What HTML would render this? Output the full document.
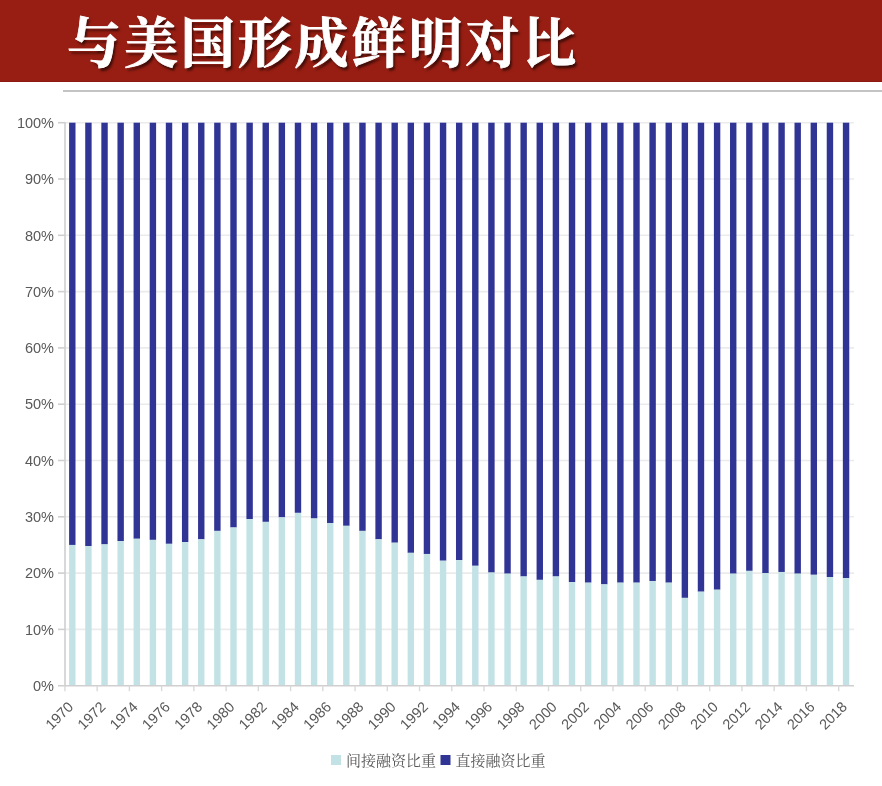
<!DOCTYPE html>
<html lang="zh-CN">
<head>
<meta charset="utf-8">
<title>与美国形成鲜明对比</title>
<style>
html,body{margin:0;padding:0;}
body{width:882px;height:786px;background:#fff;position:relative;overflow:hidden;font-family:"Liberation Sans","Noto Sans CJK SC",sans-serif;}
.hdr{position:absolute;left:0;top:0;width:882px;height:81px;background:#981e13;border-bottom:1px solid #8c1a10;}
.hdr h1{position:absolute;left:67px;top:4px;margin:0;font-family:"Liberation Serif","Noto Serif CJK SC",serif;font-weight:700;font-size:54px;line-height:82px;color:#fff;letter-spacing:2.9px;-webkit-text-stroke:0.8px #fff;white-space:nowrap;text-shadow:2px 2.5px 2.5px rgba(0,0,0,0.6);}
.rule{position:absolute;left:63px;top:90px;width:819px;height:2px;background:#c4c4c4;}
svg{position:absolute;left:0;top:0;}
svg text{font-family:"Liberation Sans","Noto Sans CJK SC",sans-serif;fill:#595959;}
.leg{font-family:"Liberation Serif","Noto Serif CJK SC",serif;}
</style>
</head>
<body>
<div class="hdr"><h1>与美国形成鲜明对比</h1></div>
<div class="rule"></div>
<svg width="882" height="786" viewBox="0 0 882 786">

<g stroke="#ebebeb" stroke-width="1.6">
<line x1="65.0" y1="629.40" x2="854.0" y2="629.40"/>
<line x1="65.0" y1="573.10" x2="854.0" y2="573.10"/>
<line x1="65.0" y1="516.80" x2="854.0" y2="516.80"/>
<line x1="65.0" y1="460.50" x2="854.0" y2="460.50"/>
<line x1="65.0" y1="404.20" x2="854.0" y2="404.20"/>
<line x1="65.0" y1="347.90" x2="854.0" y2="347.90"/>
<line x1="65.0" y1="291.60" x2="854.0" y2="291.60"/>
<line x1="65.0" y1="235.30" x2="854.0" y2="235.30"/>
<line x1="65.0" y1="179.00" x2="854.0" y2="179.00"/>
<line x1="65.0" y1="122.70" x2="854.0" y2="122.70"/>
</g>
<g>
<rect x="69.10" y="122.70" width="6.40" height="422.25" fill="#303494"/>
<rect x="69.10" y="544.95" width="6.40" height="140.75" fill="#c2e2e6"/>
<rect x="85.22" y="122.70" width="6.40" height="423.38" fill="#303494"/>
<rect x="85.22" y="546.08" width="6.40" height="139.62" fill="#c2e2e6"/>
<rect x="101.34" y="122.70" width="6.40" height="421.69" fill="#303494"/>
<rect x="101.34" y="544.39" width="6.40" height="141.31" fill="#c2e2e6"/>
<rect x="117.46" y="122.70" width="6.40" height="418.31" fill="#303494"/>
<rect x="117.46" y="541.01" width="6.40" height="144.69" fill="#c2e2e6"/>
<rect x="133.58" y="122.70" width="6.40" height="416.06" fill="#303494"/>
<rect x="133.58" y="538.76" width="6.40" height="146.94" fill="#c2e2e6"/>
<rect x="149.70" y="122.70" width="6.40" height="417.18" fill="#303494"/>
<rect x="149.70" y="539.88" width="6.40" height="145.82" fill="#c2e2e6"/>
<rect x="165.82" y="122.70" width="6.40" height="421.12" fill="#303494"/>
<rect x="165.82" y="543.82" width="6.40" height="141.88" fill="#c2e2e6"/>
<rect x="181.94" y="122.70" width="6.40" height="419.44" fill="#303494"/>
<rect x="181.94" y="542.13" width="6.40" height="143.57" fill="#c2e2e6"/>
<rect x="198.06" y="122.70" width="6.40" height="416.62" fill="#303494"/>
<rect x="198.06" y="539.32" width="6.40" height="146.38" fill="#c2e2e6"/>
<rect x="214.18" y="122.70" width="6.40" height="408.18" fill="#303494"/>
<rect x="214.18" y="530.88" width="6.40" height="154.83" fill="#c2e2e6"/>
<rect x="230.30" y="122.70" width="6.40" height="404.80" fill="#303494"/>
<rect x="230.30" y="527.50" width="6.40" height="158.20" fill="#c2e2e6"/>
<rect x="246.42" y="122.70" width="6.40" height="396.35" fill="#303494"/>
<rect x="246.42" y="519.05" width="6.40" height="166.65" fill="#c2e2e6"/>
<rect x="262.54" y="122.70" width="6.40" height="399.17" fill="#303494"/>
<rect x="262.54" y="521.87" width="6.40" height="163.83" fill="#c2e2e6"/>
<rect x="278.66" y="122.70" width="6.40" height="394.66" fill="#303494"/>
<rect x="278.66" y="517.36" width="6.40" height="168.34" fill="#c2e2e6"/>
<rect x="294.78" y="122.70" width="6.40" height="390.16" fill="#303494"/>
<rect x="294.78" y="512.86" width="6.40" height="172.84" fill="#c2e2e6"/>
<rect x="310.90" y="122.70" width="6.40" height="395.79" fill="#303494"/>
<rect x="310.90" y="518.49" width="6.40" height="167.21" fill="#c2e2e6"/>
<rect x="327.02" y="122.70" width="6.40" height="400.29" fill="#303494"/>
<rect x="327.02" y="522.99" width="6.40" height="162.71" fill="#c2e2e6"/>
<rect x="343.14" y="122.70" width="6.40" height="403.11" fill="#303494"/>
<rect x="343.14" y="525.81" width="6.40" height="159.89" fill="#c2e2e6"/>
<rect x="359.26" y="122.70" width="6.40" height="408.18" fill="#303494"/>
<rect x="359.26" y="530.88" width="6.40" height="154.83" fill="#c2e2e6"/>
<rect x="375.38" y="122.70" width="6.40" height="416.62" fill="#303494"/>
<rect x="375.38" y="539.32" width="6.40" height="146.38" fill="#c2e2e6"/>
<rect x="391.50" y="122.70" width="6.40" height="420.00" fill="#303494"/>
<rect x="391.50" y="542.70" width="6.40" height="143.00" fill="#c2e2e6"/>
<rect x="407.62" y="122.70" width="6.40" height="430.13" fill="#303494"/>
<rect x="407.62" y="552.83" width="6.40" height="132.87" fill="#c2e2e6"/>
<rect x="423.74" y="122.70" width="6.40" height="431.26" fill="#303494"/>
<rect x="423.74" y="553.96" width="6.40" height="131.74" fill="#c2e2e6"/>
<rect x="439.86" y="122.70" width="6.40" height="438.01" fill="#303494"/>
<rect x="439.86" y="560.71" width="6.40" height="124.99" fill="#c2e2e6"/>
<rect x="455.98" y="122.70" width="6.40" height="437.45" fill="#303494"/>
<rect x="455.98" y="560.15" width="6.40" height="125.55" fill="#c2e2e6"/>
<rect x="472.10" y="122.70" width="6.40" height="443.08" fill="#303494"/>
<rect x="472.10" y="565.78" width="6.40" height="119.92" fill="#c2e2e6"/>
<rect x="488.22" y="122.70" width="6.40" height="449.84" fill="#303494"/>
<rect x="488.22" y="572.54" width="6.40" height="113.16" fill="#c2e2e6"/>
<rect x="504.34" y="122.70" width="6.40" height="450.96" fill="#303494"/>
<rect x="504.34" y="573.66" width="6.40" height="112.04" fill="#c2e2e6"/>
<rect x="520.46" y="122.70" width="6.40" height="453.78" fill="#303494"/>
<rect x="520.46" y="576.48" width="6.40" height="109.22" fill="#c2e2e6"/>
<rect x="536.58" y="122.70" width="6.40" height="457.16" fill="#303494"/>
<rect x="536.58" y="579.86" width="6.40" height="105.84" fill="#c2e2e6"/>
<rect x="552.70" y="122.70" width="6.40" height="453.78" fill="#303494"/>
<rect x="552.70" y="576.48" width="6.40" height="109.22" fill="#c2e2e6"/>
<rect x="568.82" y="122.70" width="6.40" height="459.41" fill="#303494"/>
<rect x="568.82" y="582.11" width="6.40" height="103.59" fill="#c2e2e6"/>
<rect x="584.94" y="122.70" width="6.40" height="459.97" fill="#303494"/>
<rect x="584.94" y="582.67" width="6.40" height="103.03" fill="#c2e2e6"/>
<rect x="601.06" y="122.70" width="6.40" height="461.66" fill="#303494"/>
<rect x="601.06" y="584.36" width="6.40" height="101.34" fill="#c2e2e6"/>
<rect x="617.18" y="122.70" width="6.40" height="459.97" fill="#303494"/>
<rect x="617.18" y="582.67" width="6.40" height="103.03" fill="#c2e2e6"/>
<rect x="633.30" y="122.70" width="6.40" height="459.97" fill="#303494"/>
<rect x="633.30" y="582.67" width="6.40" height="103.03" fill="#c2e2e6"/>
<rect x="649.42" y="122.70" width="6.40" height="458.28" fill="#303494"/>
<rect x="649.42" y="580.98" width="6.40" height="104.72" fill="#c2e2e6"/>
<rect x="665.54" y="122.70" width="6.40" height="459.97" fill="#303494"/>
<rect x="665.54" y="582.67" width="6.40" height="103.03" fill="#c2e2e6"/>
<rect x="681.66" y="122.70" width="6.40" height="475.17" fill="#303494"/>
<rect x="681.66" y="597.87" width="6.40" height="87.83" fill="#c2e2e6"/>
<rect x="697.78" y="122.70" width="6.40" height="468.98" fill="#303494"/>
<rect x="697.78" y="591.68" width="6.40" height="94.02" fill="#c2e2e6"/>
<rect x="713.90" y="122.70" width="6.40" height="467.01" fill="#303494"/>
<rect x="713.90" y="589.71" width="6.40" height="95.99" fill="#c2e2e6"/>
<rect x="730.02" y="122.70" width="6.40" height="450.96" fill="#303494"/>
<rect x="730.02" y="573.66" width="6.40" height="112.04" fill="#c2e2e6"/>
<rect x="746.14" y="122.70" width="6.40" height="448.15" fill="#303494"/>
<rect x="746.14" y="570.85" width="6.40" height="114.85" fill="#c2e2e6"/>
<rect x="762.26" y="122.70" width="6.40" height="450.40" fill="#303494"/>
<rect x="762.26" y="573.10" width="6.40" height="112.60" fill="#c2e2e6"/>
<rect x="778.38" y="122.70" width="6.40" height="449.27" fill="#303494"/>
<rect x="778.38" y="571.97" width="6.40" height="113.73" fill="#c2e2e6"/>
<rect x="794.50" y="122.70" width="6.40" height="450.96" fill="#303494"/>
<rect x="794.50" y="573.66" width="6.40" height="112.04" fill="#c2e2e6"/>
<rect x="810.62" y="122.70" width="6.40" height="452.09" fill="#303494"/>
<rect x="810.62" y="574.79" width="6.40" height="110.91" fill="#c2e2e6"/>
<rect x="826.74" y="122.70" width="6.40" height="454.34" fill="#303494"/>
<rect x="826.74" y="577.04" width="6.40" height="108.66" fill="#c2e2e6"/>
<rect x="842.86" y="122.70" width="6.40" height="455.47" fill="#303494"/>
<rect x="842.86" y="578.17" width="6.40" height="107.53" fill="#c2e2e6"/>
</g>
<g stroke="#cfcfcf" stroke-width="1.6" fill="none">
<line x1="65.0" y1="121.90" x2="65.0" y2="686.50"/>
<line x1="58.0" y1="685.70" x2="854.0" y2="685.70"/>
<line x1="58.0" y1="629.40" x2="65.0" y2="629.40"/>
<line x1="58.0" y1="573.10" x2="65.0" y2="573.10"/>
<line x1="58.0" y1="516.80" x2="65.0" y2="516.80"/>
<line x1="58.0" y1="460.50" x2="65.0" y2="460.50"/>
<line x1="58.0" y1="404.20" x2="65.0" y2="404.20"/>
<line x1="58.0" y1="347.90" x2="65.0" y2="347.90"/>
<line x1="58.0" y1="291.60" x2="65.0" y2="291.60"/>
<line x1="58.0" y1="235.30" x2="65.0" y2="235.30"/>
<line x1="58.0" y1="179.00" x2="65.0" y2="179.00"/>
<line x1="58.0" y1="122.70" x2="65.0" y2="122.70"/>
<line stroke="#d9d9d9" stroke-width="1.4" x1="64.90" y1="685.70" x2="64.90" y2="691.20"/>
<line stroke="#d9d9d9" stroke-width="1.4" x1="97.14" y1="685.70" x2="97.14" y2="691.20"/>
<line stroke="#d9d9d9" stroke-width="1.4" x1="129.38" y1="685.70" x2="129.38" y2="691.20"/>
<line stroke="#d9d9d9" stroke-width="1.4" x1="161.62" y1="685.70" x2="161.62" y2="691.20"/>
<line stroke="#d9d9d9" stroke-width="1.4" x1="193.86" y1="685.70" x2="193.86" y2="691.20"/>
<line stroke="#d9d9d9" stroke-width="1.4" x1="226.10" y1="685.70" x2="226.10" y2="691.20"/>
<line stroke="#d9d9d9" stroke-width="1.4" x1="258.34" y1="685.70" x2="258.34" y2="691.20"/>
<line stroke="#d9d9d9" stroke-width="1.4" x1="290.58" y1="685.70" x2="290.58" y2="691.20"/>
<line stroke="#d9d9d9" stroke-width="1.4" x1="322.82" y1="685.70" x2="322.82" y2="691.20"/>
<line stroke="#d9d9d9" stroke-width="1.4" x1="355.06" y1="685.70" x2="355.06" y2="691.20"/>
<line stroke="#d9d9d9" stroke-width="1.4" x1="387.30" y1="685.70" x2="387.30" y2="691.20"/>
<line stroke="#d9d9d9" stroke-width="1.4" x1="419.54" y1="685.70" x2="419.54" y2="691.20"/>
<line stroke="#d9d9d9" stroke-width="1.4" x1="451.78" y1="685.70" x2="451.78" y2="691.20"/>
<line stroke="#d9d9d9" stroke-width="1.4" x1="484.02" y1="685.70" x2="484.02" y2="691.20"/>
<line stroke="#d9d9d9" stroke-width="1.4" x1="516.26" y1="685.70" x2="516.26" y2="691.20"/>
<line stroke="#d9d9d9" stroke-width="1.4" x1="548.50" y1="685.70" x2="548.50" y2="691.20"/>
<line stroke="#d9d9d9" stroke-width="1.4" x1="580.74" y1="685.70" x2="580.74" y2="691.20"/>
<line stroke="#d9d9d9" stroke-width="1.4" x1="612.98" y1="685.70" x2="612.98" y2="691.20"/>
<line stroke="#d9d9d9" stroke-width="1.4" x1="645.22" y1="685.70" x2="645.22" y2="691.20"/>
<line stroke="#d9d9d9" stroke-width="1.4" x1="677.46" y1="685.70" x2="677.46" y2="691.20"/>
<line stroke="#d9d9d9" stroke-width="1.4" x1="709.70" y1="685.70" x2="709.70" y2="691.20"/>
<line stroke="#d9d9d9" stroke-width="1.4" x1="741.94" y1="685.70" x2="741.94" y2="691.20"/>
<line stroke="#d9d9d9" stroke-width="1.4" x1="774.18" y1="685.70" x2="774.18" y2="691.20"/>
<line stroke="#d9d9d9" stroke-width="1.4" x1="806.42" y1="685.70" x2="806.42" y2="691.20"/>
<line stroke="#d9d9d9" stroke-width="1.4" x1="838.66" y1="685.70" x2="838.66" y2="691.20"/>
</g>
<g font-size="14.5" text-anchor="end">
<text x="54.0" y="690.90">0%</text>
<text x="54.0" y="634.60">10%</text>
<text x="54.0" y="578.30">20%</text>
<text x="54.0" y="522.00">30%</text>
<text x="54.0" y="465.70">40%</text>
<text x="54.0" y="409.40">50%</text>
<text x="54.0" y="353.10">60%</text>
<text x="54.0" y="296.80">70%</text>
<text x="54.0" y="240.50">80%</text>
<text x="54.0" y="184.20">90%</text>
<text x="54.0" y="127.90">100%</text>
</g>
<g font-size="14.5" text-anchor="end">
<text transform="translate(74.20,707.70) rotate(-45)" x="0" y="0">1970</text>
<text transform="translate(106.44,707.70) rotate(-45)" x="0" y="0">1972</text>
<text transform="translate(138.68,707.70) rotate(-45)" x="0" y="0">1974</text>
<text transform="translate(170.92,707.70) rotate(-45)" x="0" y="0">1976</text>
<text transform="translate(203.16,707.70) rotate(-45)" x="0" y="0">1978</text>
<text transform="translate(235.40,707.70) rotate(-45)" x="0" y="0">1980</text>
<text transform="translate(267.64,707.70) rotate(-45)" x="0" y="0">1982</text>
<text transform="translate(299.88,707.70) rotate(-45)" x="0" y="0">1984</text>
<text transform="translate(332.12,707.70) rotate(-45)" x="0" y="0">1986</text>
<text transform="translate(364.36,707.70) rotate(-45)" x="0" y="0">1988</text>
<text transform="translate(396.60,707.70) rotate(-45)" x="0" y="0">1990</text>
<text transform="translate(428.84,707.70) rotate(-45)" x="0" y="0">1992</text>
<text transform="translate(461.08,707.70) rotate(-45)" x="0" y="0">1994</text>
<text transform="translate(493.32,707.70) rotate(-45)" x="0" y="0">1996</text>
<text transform="translate(525.56,707.70) rotate(-45)" x="0" y="0">1998</text>
<text transform="translate(557.80,707.70) rotate(-45)" x="0" y="0">2000</text>
<text transform="translate(590.04,707.70) rotate(-45)" x="0" y="0">2002</text>
<text transform="translate(622.28,707.70) rotate(-45)" x="0" y="0">2004</text>
<text transform="translate(654.52,707.70) rotate(-45)" x="0" y="0">2006</text>
<text transform="translate(686.76,707.70) rotate(-45)" x="0" y="0">2008</text>
<text transform="translate(719.00,707.70) rotate(-45)" x="0" y="0">2010</text>
<text transform="translate(751.24,707.70) rotate(-45)" x="0" y="0">2012</text>
<text transform="translate(783.48,707.70) rotate(-45)" x="0" y="0">2014</text>
<text transform="translate(815.72,707.70) rotate(-45)" x="0" y="0">2016</text>
<text transform="translate(847.96,707.70) rotate(-45)" x="0" y="0">2018</text>
</g>
<rect x="331" y="755" width="10" height="10" fill="#c2e2e6"/>
<text class="leg" x="346" y="765.5" font-size="15">间接融资比重</text>
<rect x="440.5" y="755" width="10" height="10" fill="#303494"/>
<text class="leg" x="455.6" y="765.5" font-size="15">直接融资比重</text>
</svg>
</body>
</html>
